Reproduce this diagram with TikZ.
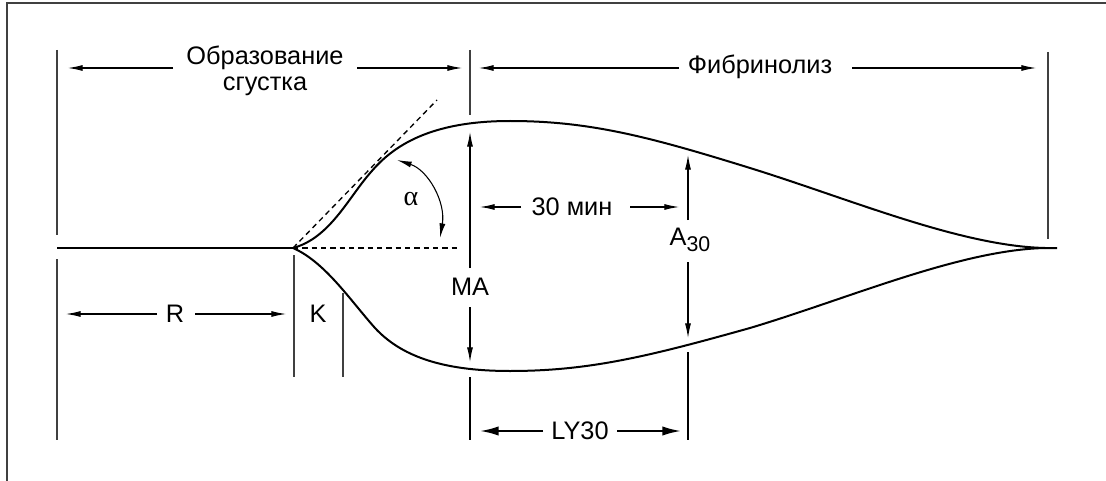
\documentclass[tikz,border=0pt]{standalone}
\usepackage{fontspec}
\setmainfont{Liberation Sans}
\newfontfamily\grfont{Liberation Serif}
\usetikzlibrary{arrows.meta}
\tikzset{
  curve/.style={line width=1.5pt},
  frame/.style={line width=1pt,black!75},
  bar/.style={line width=0.8pt,black!75},
  barthick/.style={line width=1.5pt},
  dim/.style={line width=0.8pt,-{Latex[length=11pt,width=4.5pt]}},
  dimbig/.style={line width=1.5pt,-{Latex[length=14pt,width=7pt]}},
  tang/.style={line width=1pt,dash pattern=on 4pt off 3pt},
  lbl/.style={font=\fontsize{19}{19}\selectfont,inner sep=0pt}
}
\begin{document}
\begin{tikzpicture}[x=0.75pt,y=-0.75pt]
  \useasboundingbox (0,0) rectangle (1106,481);
  % frame
  \coordinate (F1) at (7,481);
  \coordinate (F2) at (7,3);
  \coordinate (F3) at (1106,3);
  \draw[frame] (F1)--(F2)--(F3);
  % key points of the trace
  \coordinate (O) at (57,248);
  \coordinate (S) at (293,248);
  \coordinate (E) at (1045,248);
  \coordinate (E2) at (1057,248);
  \coordinate (T) at (437,100);
  \coordinate (H) at (460,248);
  % trace
  \draw[curve] (O)--(S);
  \draw[curve] (S) .. controls (330,238) and (348,198) .. (371,172)
                   .. controls (393,146) and (430,121) .. (510,121)
                   .. controls (590,121) and (650,137) .. (750,168)
                   .. controls (850,199) and (960,246) .. (E)--(E2);
  \draw[curve] (S) .. controls (325,262) and (350,300) .. (375,328)
                   .. controls (400,355) and (440,371) .. (510,371)
                   .. controls (590,371) and (650,356) .. (750,328)
                   .. controls (850,298) and (960,250) .. (E);
  \draw[tang] (S)--(T);
  \draw[tang] (S)--(H);
  % vertical bars
  \coordinate (L1) at (57,50);   \coordinate (L2) at (57,235);
  \coordinate (L3) at (57,259);  \coordinate (L4) at (57,440);
  \coordinate (M1) at (470,50);  \coordinate (M2) at (470,115);
  \coordinate (M3) at (470,377); \coordinate (M4) at (470,440);
  \coordinate (Q1) at (1048,52); \coordinate (Q2) at (1048,239);
  \coordinate (K1) at (294,255); \coordinate (K2) at (294,377);
  \coordinate (K3) at (343,293); \coordinate (K4) at (343,377);
  \coordinate (A1) at (688,352); \coordinate (A2) at (688,440);
  \draw[bar] (L1)--(L2);
  \draw[bar] (L3)--(L4);
  \draw[bar] (M1)--(M2);
  \draw[bar] (Q1)--(Q2);
  \draw[bar] (K1)--(K2);
  \draw[bar] (K3)--(K4);
  \draw[barthick] (M3)--(M4);
  \draw[barthick] (A1)--(A2);
  % labels
  \node[lbl,align=center] (obr) at (265,71) {Образование\\[1pt]сгустка};
  \node[lbl] (fib) at (760,67) {Фибринолиз};
  \node[lbl] (r) at (175,314) {R};
  \node[lbl] (k) at (318,314) {K};
  \node[lbl] (ma) at (470,287) {MA};
  \node[lbl] (min) at (572,207) {30 мин};
  \node[lbl] (a30) at (690,240) {A\raisebox{-5pt}{\fontsize{16}{16}\selectfont 30}};
  \node[lbl] (ly) at (580,431) {LY30};
  \node[lbl,font=\grfont\fontsize{21}{21}\selectfont] (al) at (411,199) {α};
  % arrow ends
  \coordinate (ob1) at (173,68);  \coordinate (ob2) at (68,68);
  \coordinate (ob3) at (357,68);  \coordinate (ob4) at (462,68);
  \coordinate (fi1) at (679,68);  \coordinate (fi2) at (479,68);
  \coordinate (fi3) at (852,68);  \coordinate (fi4) at (1036,68);
  \coordinate (r1) at (157,314);  \coordinate (r2) at (66,314);
  \coordinate (r3) at (195,314);  \coordinate (r4) at (286,314);
  \coordinate (ma1) at (470,268); \coordinate (ma2) at (470,132);
  \coordinate (ma3) at (470,307); \coordinate (ma4) at (470,362);
  \coordinate (mi1) at (521,207); \coordinate (mi2) at (480,207);
  \coordinate (mi3) at (630,207); \coordinate (mi4) at (679,207);
  \coordinate (a1) at (688,220);  \coordinate (a2) at (688,155);
  \coordinate (a3) at (688,262);  \coordinate (a4) at (688,338);
  \coordinate (ly1) at (543,431); \coordinate (ly2) at (480,431);
  \coordinate (ly3) at (617,431); \coordinate (ly4) at (681,431);
  \coordinate (al1) at (440,238); \coordinate (al2) at (397,160);
  \draw[dim] (ob1)--(ob2);
  \draw[dim] (ob3)--(ob4);
  \draw[dim] (fi1)--(fi2);
  \draw[dim] (fi3)--(fi4);
  \draw[dim] (r1)--(r2);
  \draw[dim] (r3)--(r4);
  \draw[dim] (ma1)--(ma2);
  \draw[dim] (ma3)--(ma4);
  \draw[dim] (mi1)--(mi2);
  \draw[dim] (mi3)--(mi4);
  \draw[dim] (a1)--(a2);
  \draw[dim] (a3)--(a4);
  \draw[dimbig] (ly1)--(ly2);
  \draw[dimbig] (ly3)--(ly4);
  \draw[dim,{Latex[length=11pt,width=4.5pt]}-{Latex[length=11pt,width=4.5pt]}]
    (al2) .. controls (428,170) and (446,202) .. (al1);
\end{tikzpicture}
\end{document}
